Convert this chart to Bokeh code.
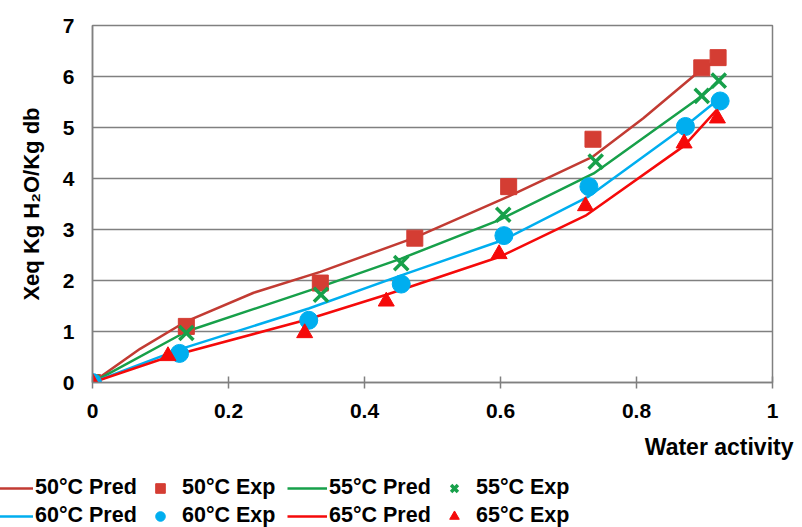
from bokeh.plotting import figure
from bokeh.models import Legend, LegendItem, Title, FixedTicker, Range1d
from bokeh.embed import file_html
from bokeh.resources import INLINE

# ---- data ----
aw50_exp = [0, 0.138, 0.335, 0.474, 0.612, 0.736, 0.896, 0.920]
x50_exp = [0, 1.10, 1.95, 2.83, 3.84, 4.77, 6.17, 6.37]
aw50_pred = [0, 0.07, 0.138, 0.237, 0.335, 0.474, 0.612, 0.736, 0.81, 0.884, 0.92]
x50_pred = [0, 0.66, 1.20, 1.76, 2.17, 2.84, 3.65, 4.43, 5.18, 6.01, 6.35]

aw55_exp = [0, 0.138, 0.336, 0.454, 0.604, 0.740, 0.896, 0.921]
x55_exp = [0, 0.97, 1.72, 2.34, 3.29, 4.33, 5.62, 5.92]
aw55_pred = [0, 0.138, 0.336, 0.454, 0.597, 0.737, 0.894, 0.924]
x55_pred = [0, 1.00, 1.88, 2.43, 3.18, 4.10, 5.60, 5.93]

aw60_exp = [0, 0.128, 0.318, 0.454, 0.605, 0.730, 0.872, 0.923]
x60_exp = [0, 0.57, 1.22, 1.93, 2.88, 3.84, 5.02, 5.52]
aw60_pred = [0, 0.128, 0.318, 0.454, 0.605, 0.730, 0.872, 0.923]
x60_pred = [0, 0.65, 1.45, 2.10, 2.80, 3.65, 5.03, 5.58]

aw65_exp = [0, 0.111, 0.312, 0.432, 0.598, 0.725, 0.870, 0.919]
x65_exp = [0, 0.52, 0.97, 1.59, 2.52, 3.46, 4.69, 5.18]
aw65_pred = [0, 0.111, 0.312, 0.432, 0.598, 0.725, 0.870, 0.919]
x65_pred = [0, 0.50, 1.22, 1.72, 2.46, 3.27, 4.64, 5.36]

x_ticks = [0, 0.2, 0.4, 0.6, 0.8, 1.0]
x_tick_labels = ["0", "0.2", "0.4", "0.6", "0.8", "1"]
y_ticks = [0, 1, 2, 3, 4, 5, 6, 7]

series_labels = ["50\u00b0C Pred", "50\u00b0C Exp", "55\u00b0C Pred", "55\u00b0C Exp",
                 "60\u00b0C Pred", "60\u00b0C Exp", "65\u00b0C Pred", "65\u00b0C Exp"]

x_title = "Water activity"
y_title = "Xeq Kg H\u2082O/Kg db"

C50L = "#C23B33"
C50M = "#D43D33"
C55 = "#17A04A"
C60 = "#00AEEF"
C65 = "#F50A0A"
GRAY = "#808080"
FONT = "Liberation Sans"

LINE = dict(line_width=2.5)
STYLES = [
    ("line", dict(line_color=C50L, **LINE)),
    ("square", dict(size=16, fill_color=C50M, line_color=C50M)),
    ("line", dict(line_color=C55, **LINE)),
    ("x", dict(size=20, line_color=C55, line_width=3.5)),
    ("line", dict(line_color=C60, **LINE)),
    ("circle", dict(size=18, fill_color=C60, line_color=C60)),
    ("line", dict(line_color=C65, **LINE)),
    ("triangle", dict(size=16, fill_color=C65, line_color=C65)),
]
DATA = [(aw50_pred, x50_pred), (aw50_exp, x50_exp), (aw55_pred, x55_pred), (aw55_exp, x55_exp),
        (aw60_pred, x60_pred), (aw60_exp, x60_exp), (aw65_pred, x65_pred), (aw65_exp, x65_exp)]


def draw(fig):
    rs = [None] * len(STYLES)
    for i, ((kind, st), (xs, ys)) in enumerate(zip(STYLES, DATA)):
        if kind == "line":
            rs[i] = fig.line(xs, ys, **st)
    for i, ((kind, st), (xs, ys)) in enumerate(zip(STYLES, DATA)):
        if kind != "line":
            rs[i] = fig.scatter(xs, ys, marker=kind, **st)
    return rs


p = figure(width=802, height=470, output_backend="svg", toolbar_location=None,
           x_range=Range1d(0, 1), y_range=Range1d(0, 7),
           min_border_left=92, min_border_right=30, min_border_top=25, min_border_bottom=87)
p.background_fill_color = "white"
p.border_fill_color = "white"
p.outline_line_color = GRAY
p.outline_line_width = 1.5

p.xgrid.visible = False
p.ygrid.grid_line_color = GRAY
p.ygrid.grid_line_width = 1.5
p.ygrid.ticker = FixedTicker(ticks=y_ticks)

p.xaxis.ticker = FixedTicker(ticks=x_ticks)
p.xaxis.major_label_overrides = {t: l for t, l in zip(x_ticks, x_tick_labels)}
p.xaxis.minor_tick_line_color = None
p.xaxis.major_tick_in = 6
p.xaxis.major_tick_out = 6
p.xaxis.major_tick_line_color = GRAY
p.xaxis.major_tick_line_width = 1.5
p.xaxis.axis_line_color = GRAY
p.xaxis.axis_line_width = 1.5
p.xaxis.major_label_standoff = 15

p.yaxis.ticker = FixedTicker(ticks=y_ticks)
p.yaxis.minor_tick_line_color = None
p.yaxis.major_tick_line_color = None
p.yaxis.major_tick_in = 0
p.yaxis.major_tick_out = 0
p.yaxis.axis_line_color = GRAY
p.yaxis.axis_line_width = 1.5
p.yaxis.major_label_standoff = 18

for ax in (p.xaxis, p.yaxis):
    ax.major_label_text_font = FONT
    ax.major_label_text_font_style = "bold"
    ax.major_label_text_font_size = "21px"
    ax.major_label_text_color = "black"

draw(p)

# axis titles (side-panel titles so they sit outside the frame)
p.add_layout(Title(text=x_title, align="right", offset=-21, standoff=22,
                   text_font=FONT, text_font_style="bold", text_font_size="23px",
                   text_color="black"), "below")
p.add_layout(Title(text=y_title, align="center", offset=14, standoff=32,
                   text_font=FONT, text_font_style="bold", text_font_size="22px",
                   text_color="black"), "left")

# legend strip below the chart (2 rows x 4 columns); its data view is empty,
# so only the legend itself is visible
q = figure(width=802, height=57, output_backend="svg", toolbar_location=None,
           x_range=Range1d(0, 1), y_range=Range1d(-20, -19),
           x_axis_location=None, y_axis_location=None, min_border=0)
q.grid.visible = False
q.outline_line_color = None
q.background_fill_color = "white"
q.border_fill_color = "white"
proxies = draw(q)

lg = Legend(items=[LegendItem(label=t, renderers=[r]) for t, r in zip(series_labels, proxies)],
            location=(-7, -1), orientation="horizontal", ncols=4,
            glyph_width=40, glyph_height=24, label_height=24, label_width=102,
            label_standoff=2, spacing=3, padding=0, margin=0,
            border_line_color=None, background_fill_alpha=0,
            label_text_font=FONT, label_text_font_style="bold",
            label_text_font_size="21.5px", label_text_color="black")
q.add_layout(lg, "center")

open("out.html", "w").write(file_html([p, q], INLINE))
